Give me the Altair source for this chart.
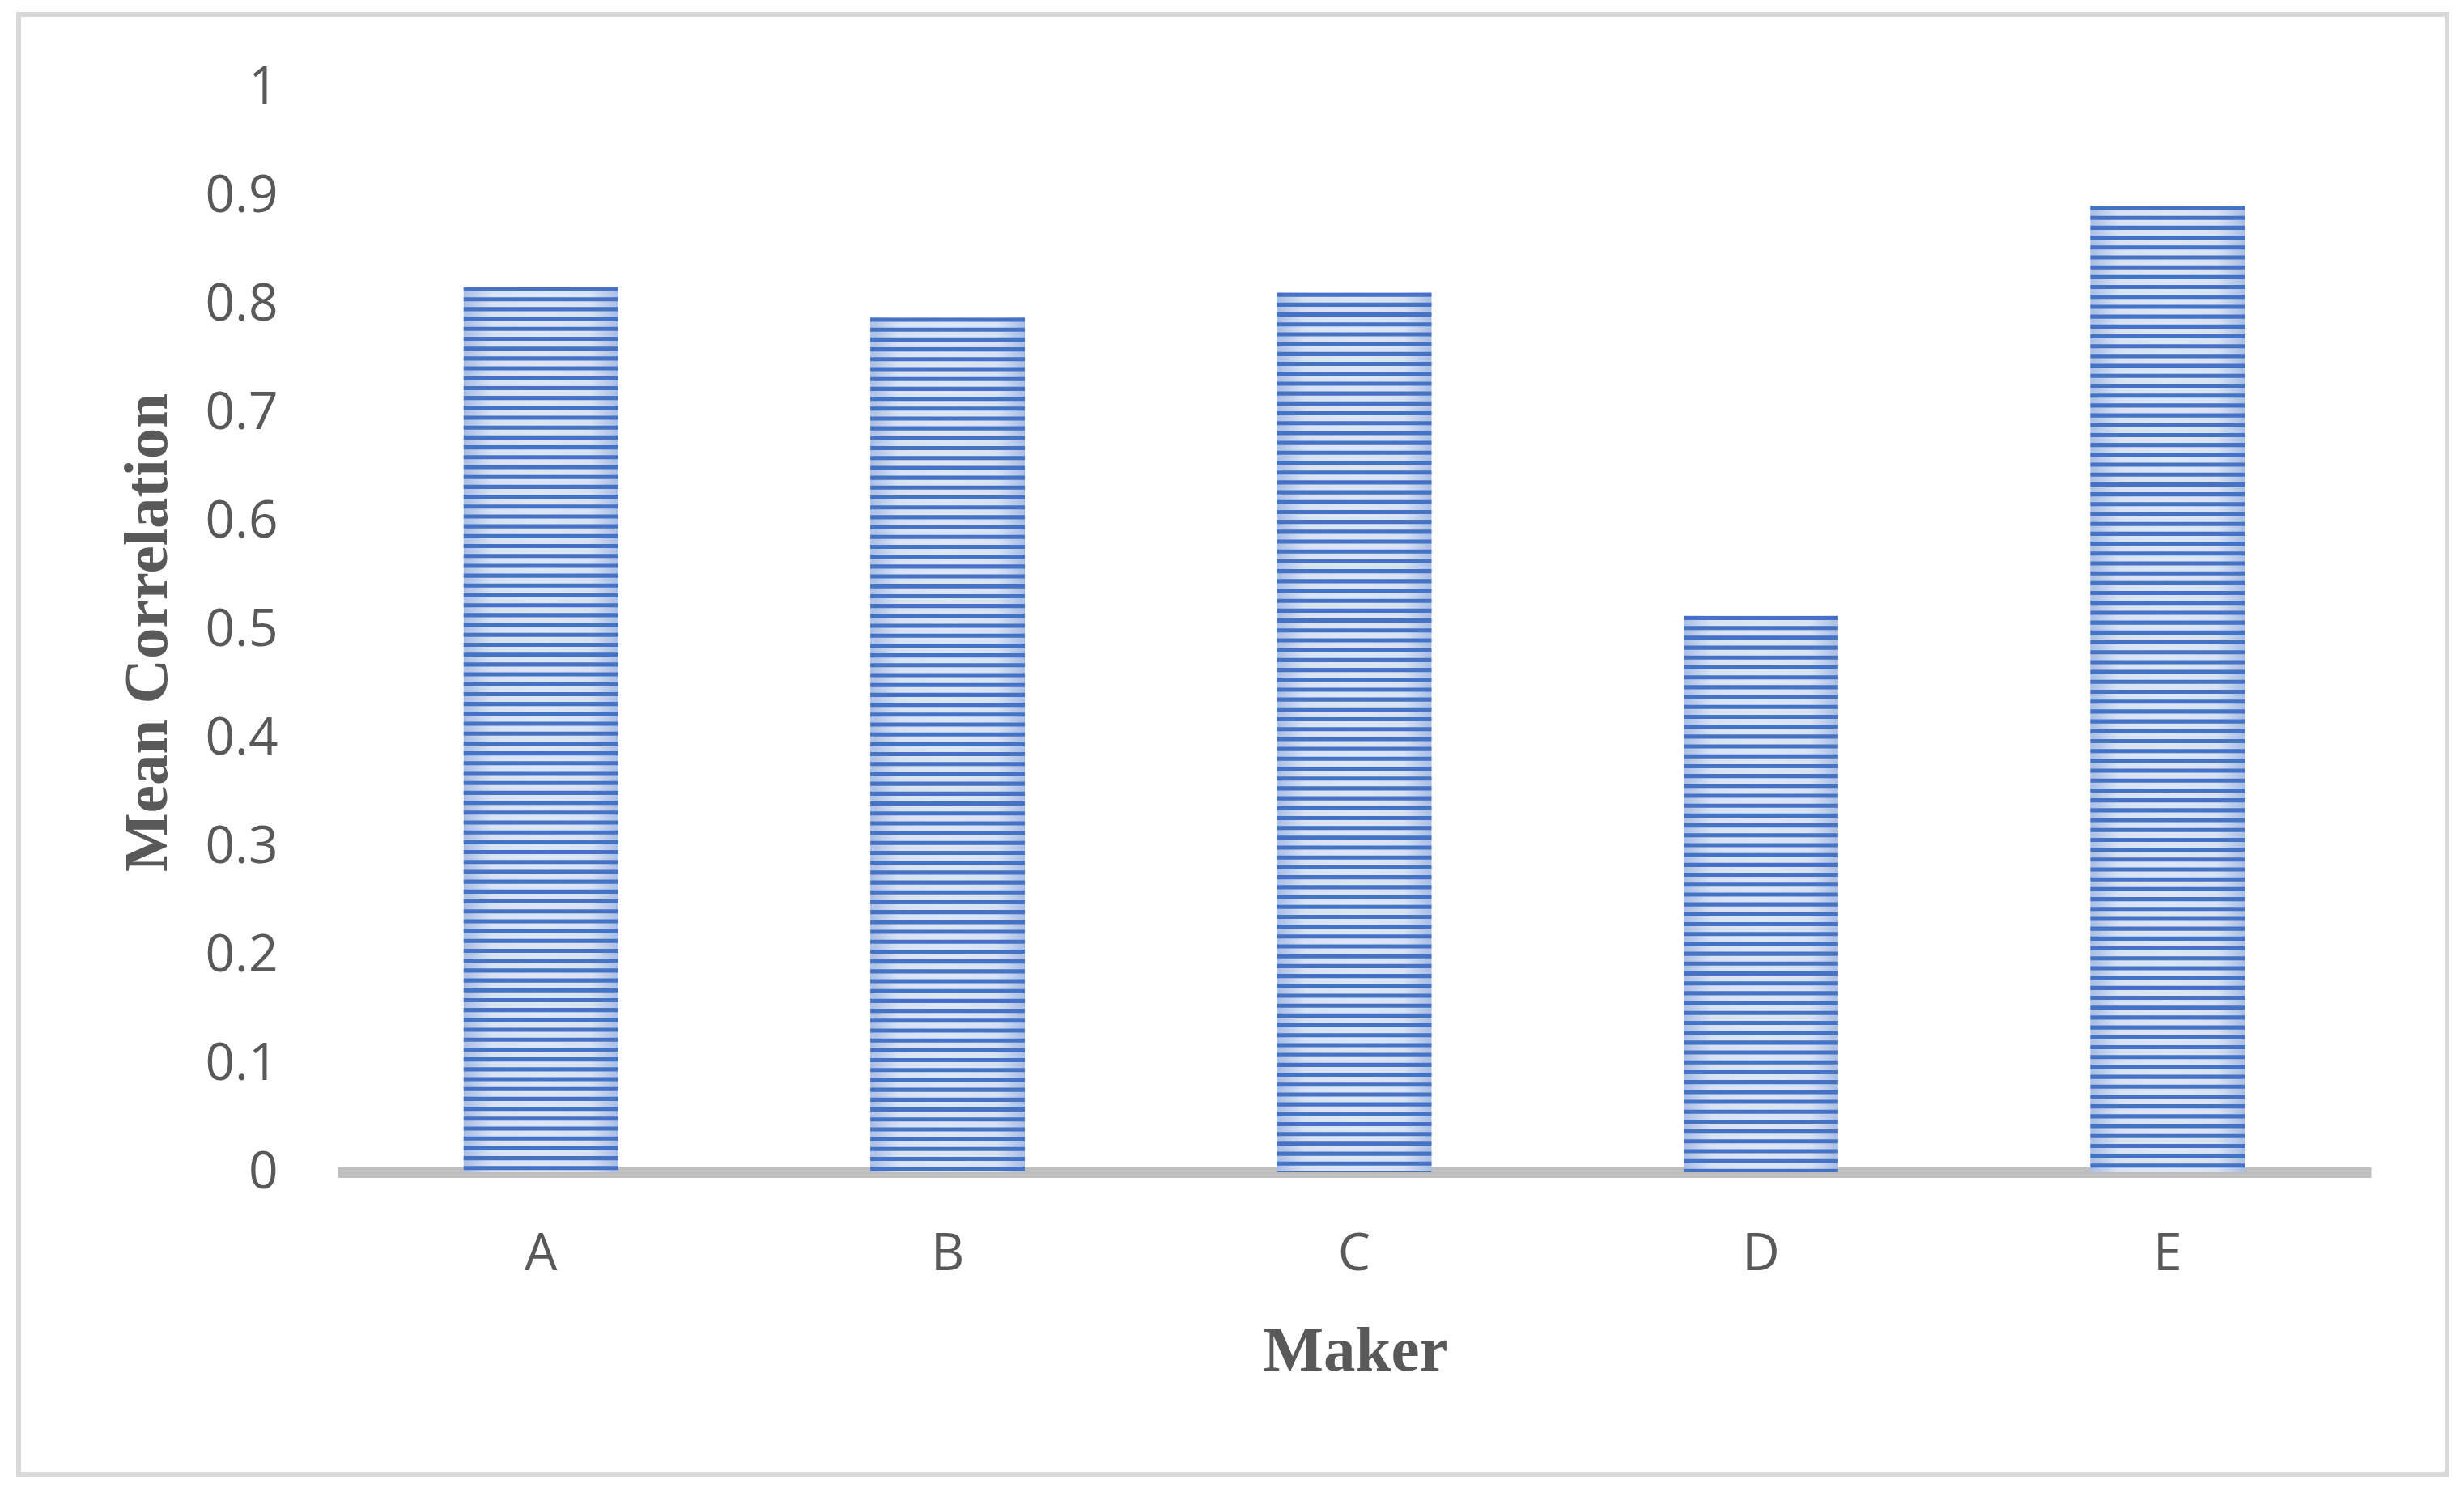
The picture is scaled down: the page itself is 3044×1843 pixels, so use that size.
import altair as alt
import pandas as pd

makers = ["A", "B", "C", "D", "E"]
mean_corr = [0.816, 0.788, 0.811, 0.513, 0.891]
y_ticks = [0, 0.1, 0.2, 0.3, 0.4, 0.5, 0.6, 0.7, 0.8, 0.9, 1]

df = pd.DataFrame({"Maker": makers, "value": mean_corr})

DARK = "#4472c4"
LABEL = "#595959"

xscale = alt.Scale(domain=makers, paddingInner=0.62, paddingOuter=0.31)
yscale = alt.Scale(domain=[0, 1], nice=False, zero=True)

x_enc = alt.X(
    "Maker:N",
    scale=xscale,
    sort=makers,
    axis=alt.Axis(
        title="Maker",
        titleFont="Liberation Serif",
        titleFontWeight="bold",
        titleFontSize=79,
        titleColor=LABEL,
        titleX=1257,
        titleY=244,
        titleBaseline="alphabetic",
        labelFont="Open Sans",
        labelFontSize=64,
        labelColor=LABEL,
        labelAngle=0,
        labelBaseline="alphabetic",
        labelPadding=120,
        ticks=False,
        tickSize=0,
        domainColor="#bfbfbf",
        domainWidth=13,
        grid=False,
    ),
)

y_enc = alt.Y(
    "value:Q",
    scale=yscale,
    axis=alt.Axis(
        title="Mean Correlation",
        titleFont="Liberation Serif",
        titleFontWeight="bold",
        titleFontSize=77,
        titleColor=LABEL,
        titleX=-212,
        titleY=673,
        titleAngle=270,
        titleBaseline="alphabetic",
        values=y_ticks,
        format="~g",
        labelFont="Open Sans",
        labelFontSize=64,
        labelColor=LABEL,
        labelPadding=74,
        labelBaseline="middle",
        ticks=False,
        tickSize=0,
        domain=False,
        grid=False,
    ),
)

light_fill = alt.Gradient(
    gradient="linear",
    x1=0, y1=0, x2=1, y2=0,
    stops=[
        alt.GradientStop(color="#a9bde4", offset=0),
        alt.GradientStop(color="#d8e2f3", offset=0.18),
        alt.GradientStop(color="#dde6f5", offset=0.5),
        alt.GradientStop(color="#d8e2f3", offset=0.82),
        alt.GradientStop(color="#a9bde4", offset=1),
    ],
)

base = alt.Chart(df).mark_bar(fill=light_fill, stroke=None).encode(x=x_enc, y=y_enc)

stripes = (
    alt.Chart(df)
    .transform_calculate(s="sequence(datum.value - 0.0003, 0, -0.0091)")
    .transform_flatten(["s"])
    .transform_calculate(e="max(0, datum.s - 0.0038)")
    .mark_bar(color=DARK)
    .encode(
        x=alt.X("Maker:N", scale=xscale, sort=makers),
        y=alt.Y("s:Q", scale=yscale),
        y2="e:Q",
    )
)

frame = (
    alt.Chart(alt.Data(values=[{"k": 1}]))
    .mark_rect(filled=False, stroke="#d9d9d9", strokeWidth=6)
    .encode(
        x=alt.value(-394),
        x2=alt.value(2606),
        y=alt.value(-90),
        y2=alt.value(1713),
    )
)

chart = (
    alt.layer(base, stripes, frame)
    .properties(
        width=2512,
        height=1340,
        autosize=alt.AutoSizeParams(type="none"),
        padding={"left": 409, "top": 100, "right": 100, "bottom": 380},
        background="white",
    )
    .configure_view(stroke=None)
)

chart.save("out.html", embed_options={"renderer": "svg", "actions": False})
